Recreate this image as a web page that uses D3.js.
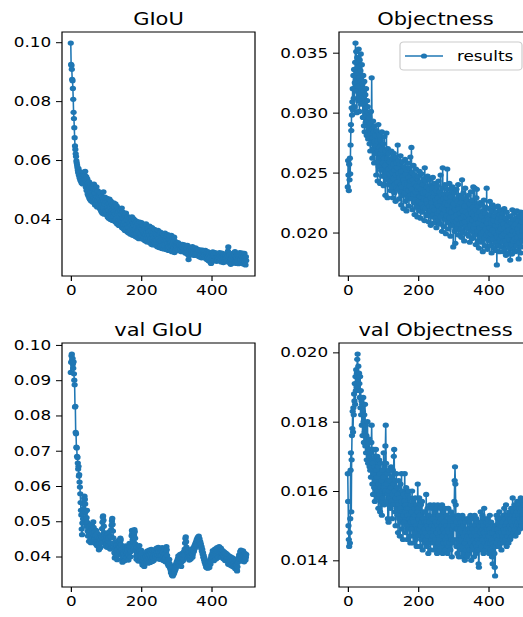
<!DOCTYPE html>
<html>
<head>
<meta charset="utf-8">
<script src="https://cdn.jsdelivr.net/npm/d3@7"></script>
<style>
  body { margin: 0; background: #fff; }
  svg { display: block; }
  text { font-family: "DejaVu Sans", sans-serif; fill: #000; }
</style>
</head>
<body>
<svg id="chart" width="523" height="617"></svg>
<script>
// train GIoU per epoch
var giou = [
  0.0997,0.0925,0.0921,0.0908,0.0874,0.0869,0.0843,0.0806,0.0762,0.0741,0.0710,0.0676,0.0648,0.0636,0.0621,0.0612,0.0597,0.0590,0.0583,0.0575,
  0.0566,0.0558,0.0571,0.0549,0.0552,0.0540,0.0561,0.0533,0.0545,0.0528,0.0539,0.0522,0.0548,0.0530,0.0519,0.0543,0.0527,0.0551,0.0535,0.0560,
  0.0548,0.0562,0.0531,0.0508,0.0544,0.0497,0.0528,0.0536,0.0485,0.0521,0.0479,0.0515,0.0526,0.0470,0.0508,0.0466,0.0519,0.0490,0.0461,0.0505,
  0.0481,0.0512,0.0478,0.0457,0.0503,0.0470,0.0518,0.0462,0.0489,0.0447,0.0500,0.0468,0.0452,0.0509,0.0476,0.0441,0.0463,0.0495,0.0450,0.0474,
  0.0443,0.0482,0.0436,0.0466,0.0489,0.0431,0.0458,0.0425,0.0477,0.0449,0.0419,0.0470,0.0440,0.0492,0.0461,0.0416,0.0452,0.0474,0.0428,0.0459,
  0.0425,0.0463,0.0414,0.0470,0.0438,0.0407,0.0459,0.0430,0.0402,0.0452,0.0467,0.0418,0.0441,0.0398,0.0461,0.0427,0.0409,0.0448,0.0420,0.0395,
  0.0446,0.0410,0.0455,0.0424,0.0393,0.0440,0.0415,0.0451,0.0389,0.0428,0.0402,0.0444,0.0383,0.0419,0.0436,0.0395,0.0425,0.0378,0.0412,0.0433,
  0.0394,0.0428,0.0376,0.0415,0.0391,0.0437,0.0370,0.0404,0.0423,0.0382,0.0400,0.0366,0.0419,0.0390,0.0361,0.0411,0.0379,0.0420,0.0368,0.0398,
  0.0381,0.0356,0.0408,0.0372,0.0395,0.0352,0.0383,0.0403,0.0360,0.0389,0.0348,0.0378,0.0398,0.0357,0.0407,0.0369,0.0345,0.0386,0.0401,0.0362,
  0.0379,0.0343,0.0396,0.0365,0.0388,0.0340,0.0373,0.0352,0.0392,0.0361,0.0336,0.0384,0.0358,0.0371,0.0333,0.0366,0.0389,0.0346,0.0370,0.0338,
  0.0369,0.0388,0.0341,0.0364,0.0380,0.0331,0.0358,0.0376,0.0337,0.0366,0.0350,0.0326,0.0372,0.0346,0.0383,0.0334,0.0356,0.0322,0.0367,0.0343,
  0.0366,0.0335,0.0357,0.0321,0.0376,0.0345,0.0327,0.0362,0.0333,0.0314,0.0352,0.0371,0.0329,0.0346,0.0312,0.0358,0.0336,0.0324,0.0365,0.0318,
  0.0350,0.0333,0.0311,0.0358,0.0327,0.0345,0.0306,0.0338,0.0361,0.0320,0.0334,0.0303,0.0348,0.0326,0.0316,0.0355,0.0309,0.0339,0.0322,0.0300,
  0.0337,0.0350,0.0312,0.0330,0.0298,0.0344,0.0323,0.0307,0.0352,0.0318,0.0334,0.0296,0.0327,0.0343,0.0302,0.0317,0.0347,0.0305,0.0293,0.0330,
  0.0319,0.0342,0.0302,0.0327,0.0292,0.0320,0.0344,0.0308,0.0289,0.0333,0.0315,0.0296,0.0325,0.0303,0.0338,0.0286,0.0313,0.0324,0.0294,0.0309,
  0.0309,0.0318,0.0300,0.0312,0.0296,0.0320,0.0305,0.0293,0.0310,0.0302,0.0315,0.0291,0.0306,0.0298,0.0311,0.0289,0.0303,0.0314,0.0295,0.0301,
  0.0308,0.0292,0.0299,0.0312,0.0287,0.0304,0.0296,0.0283,0.0307,0.0294,0.0301,0.0286,0.0310,0.0279,0.0297,0.0262,0.0275,0.0302,0.0290,0.0298,
  0.0285,0.0303,0.0293,0.0281,0.0299,0.0288,0.0306,0.0278,0.0294,0.0284,0.0300,0.0290,0.0276,0.0297,0.0287,0.0302,0.0280,0.0292,0.0285,0.0298,
  0.0282,0.0296,0.0274,0.0289,0.0293,0.0279,0.0286,0.0271,0.0295,0.0283,0.0277,0.0290,0.0268,0.0287,0.0280,0.0294,0.0273,0.0284,0.0291,0.0276,
  0.0288,0.0270,0.0281,0.0293,0.0266,0.0279,0.0285,0.0262,0.0276,0.0289,0.0271,0.0283,0.0258,0.0275,0.0287,0.0268,0.0280,0.0254,0.0273,0.0249,
  0.0270,0.0284,0.0262,0.0278,0.0288,0.0265,0.0274,0.0281,0.0258,0.0272,0.0286,0.0263,0.0277,0.0268,0.0283,0.0256,0.0271,0.0279,0.0260,0.0275,
  0.0282,0.0264,0.0270,0.0286,0.0259,0.0276,0.0267,0.0280,0.0254,0.0272,0.0284,0.0261,0.0269,0.0278,0.0252,0.0273,0.0265,0.0281,0.0257,0.0270,
  0.0263,0.0277,0.0255,0.0268,0.0282,0.0260,0.0274,0.0291,0.0305,0.0266,0.0253,0.0271,0.0279,0.0258,0.0264,0.0246,0.0262,0.0275,0.0250,0.0268,
  0.0276,0.0257,0.0284,0.0261,0.0270,0.0251,0.0279,0.0289,0.0264,0.0255,0.0272,0.0249,0.0268,0.0281,0.0256,0.0263,0.0277,0.0248,0.0266,0.0259,
  0.0274,0.0286,0.0253,0.0269,0.0262,0.0280,0.0250,0.0271,0.0284,0.0258,0.0265,0.0247,0.0276,0.0261,0.0283,0.0255,0.0268,0.0244,0.0272,0.0259
];

// train Objectness per epoch
var objectness = [
  0.0238,0.0260,0.0248,0.0235,0.0257,0.0244,0.0262,0.0249,0.0273,0.0290,0.0285,0.0304,0.0298,0.0309,0.0320,0.0302,0.0331,0.0312,0.0336,0.0305,
  0.0325,0.0342,0.0358,0.0318,0.0351,0.0333,0.0300,0.0346,0.0322,0.0338,0.0310,0.0353,0.0329,0.0301,0.0344,0.0316,0.0335,0.0349,0.0307,0.0327,
  0.0340,0.0312,0.0324,0.0296,0.0331,0.0318,0.0289,0.0326,0.0284,0.0303,0.0315,0.0292,0.0320,0.0298,0.0281,0.0310,0.0293,0.0305,0.0278,0.0300,
  0.0287,0.0296,0.0274,0.0291,0.0268,0.0283,0.0301,0.0277,0.0329,0.0286,0.0262,0.0279,0.0293,0.0270,0.0284,0.0258,0.0276,0.0289,0.0266,0.0281,
  0.0272,0.0248,0.0285,0.0259,0.0276,0.0243,0.0268,0.0290,0.0255,0.0271,0.0262,0.0281,0.0241,0.0266,0.0277,0.0252,0.0269,0.0284,0.0247,0.0263,
  0.0258,0.0274,0.0239,0.0262,0.0280,0.0247,0.0256,0.0231,0.0268,0.0251,0.0283,0.0244,0.0262,0.0229,0.0270,0.0253,0.0240,0.0266,0.0249,0.0259,
  0.0243,0.0261,0.0235,0.0255,0.0268,0.0238,0.0250,0.0262,0.0229,0.0257,0.0245,0.0266,0.0233,0.0252,0.0240,0.0263,0.0226,0.0248,0.0258,0.0237,
  0.0254,0.0242,0.0273,0.0236,0.0249,0.0260,0.0228,0.0246,0.0257,0.0234,0.0264,0.0240,0.0223,0.0251,0.0238,0.0259,0.0231,0.0247,0.0220,0.0244,
  0.0255,0.0233,0.0241,0.0261,0.0226,0.0249,0.0237,0.0218,0.0252,0.0240,0.0229,0.0258,0.0235,0.0246,0.0222,0.0254,0.0239,0.0231,0.0263,0.0243,
  0.0228,0.0271,0.0236,0.0250,0.0219,0.0244,0.0232,0.0256,0.0225,0.0241,0.0215,0.0248,0.0234,0.0227,0.0253,0.0221,0.0239,0.0245,0.0213,0.0236,
  0.0247,0.0226,0.0238,0.0218,0.0251,0.0230,0.0242,0.0212,0.0236,0.0224,0.0249,0.0229,0.0217,0.0240,0.0233,0.0221,0.0245,0.0228,0.0210,0.0254,
  0.0234,0.0220,0.0243,0.0227,0.0214,0.0238,0.0224,0.0247,0.0216,0.0231,0.0209,0.0236,0.0222,0.0244,0.0218,0.0229,0.0206,0.0240,0.0225,0.0213,
  0.0237,0.0221,0.0246,0.0215,0.0230,0.0208,0.0233,0.0219,0.0241,0.0212,0.0227,0.0235,0.0204,0.0224,0.0239,0.0216,0.0229,0.0210,0.0243,0.0222,
  0.0218,0.0234,0.0207,0.0226,0.0248,0.0213,0.0231,0.0220,0.0201,0.0237,0.0254,0.0216,0.0228,0.0205,0.0232,0.0219,0.0240,0.0211,0.0225,0.0199,
  0.0229,0.0214,0.0236,0.0253,0.0208,0.0223,0.0232,0.0203,0.0219,0.0241,0.0212,0.0226,0.0197,0.0230,0.0217,0.0235,0.0206,0.0222,0.0238,0.0210,
  0.0188,0.0224,0.0213,0.0233,0.0201,0.0219,0.0191,0.0228,0.0209,0.0236,0.0215,0.0203,0.0226,0.0211,0.0240,0.0198,0.0220,0.0207,0.0231,0.0216,
  0.0202,0.0225,0.0212,0.0196,0.0229,0.0244,0.0208,0.0218,0.0200,0.0233,0.0214,0.0193,0.0222,0.0209,0.0237,0.0205,0.0217,0.0228,0.0199,0.0213,
  0.0226,0.0203,0.0215,0.0231,0.0197,0.0211,0.0224,0.0192,0.0219,0.0206,0.0234,0.0201,0.0216,0.0227,0.0195,0.0210,0.0221,0.0238,0.0204,0.0214,
  0.0198,0.0237,0.0207,0.0219,0.0190,0.0212,0.0229,0.0236,0.0201,0.0215,0.0193,0.0222,0.0208,0.0187,0.0217,0.0204,0.0225,0.0196,0.0211,0.0199,
  0.0214,0.0192,0.0223,0.0206,0.0184,0.0218,0.0201,0.0227,0.0195,0.0210,0.0189,0.0216,0.0203,0.0221,0.0198,0.0237,0.0208,0.0186,0.0213,0.0200,
  0.0211,0.0193,0.0220,0.0204,0.0226,0.0189,0.0215,0.0199,0.0208,0.0183,0.0218,0.0202,0.0223,0.0194,0.0210,0.0187,0.0214,0.0200,0.0221,0.0191,
  0.0206,0.0185,0.0217,0.0198,0.0173,0.0209,0.0196,0.0222,0.0189,0.0212,0.0201,0.0184,0.0215,0.0195,0.0219,0.0203,0.0188,0.0210,0.0197,0.0213,
  0.0192,0.0216,0.0184,0.0207,0.0199,0.0220,0.0186,0.0204,0.0193,0.0212,0.0181,0.0201,0.0217,0.0190,0.0206,0.0196,0.0213,0.0183,0.0202,0.0194,
  0.0209,0.0187,0.0177,0.0214,0.0198,0.0190,0.0208,0.0182,0.0219,0.0201,0.0193,0.0211,0.0186,0.0205,0.0216,0.0195,0.0184,0.0207,0.0199,0.0212,
  0.0189,0.0218,0.0196,0.0203,0.0185,0.0210,0.0178,0.0200,0.0214,0.0191,0.0206,0.0183,0.0217,0.0197,0.0188,0.0209,0.0202,0.0215,0.0193,0.0205
];

// validation GIoU per epoch
var valGiou = [
  0.0922,0.0951,0.0969,0.0974,0.0958,0.0962,0.0946,0.0934,0.0952,0.0918,0.0900,0.0887,0.0824,0.0826,0.0752,0.0748,0.0710,0.0708,0.0684,0.0681,
  0.0665,0.0648,0.0656,0.0628,0.0632,0.0611,0.0597,0.0578,0.0553,0.0531,0.0518,0.0478,0.0462,0.0495,0.0521,0.0507,0.0536,0.0548,0.0565,0.0571,
  0.0562,0.0549,0.0527,0.0503,0.0486,0.0510,0.0531,0.0497,0.0472,0.0458,0.0481,0.0464,0.0443,0.0469,0.0488,0.0473,0.0451,0.0439,0.0462,0.0480,
  0.0491,0.0476,0.0454,0.0467,0.0498,0.0483,0.0459,0.0446,0.0471,0.0452,0.0437,0.0458,0.0474,0.0449,0.0431,0.0443,0.0466,0.0455,0.0438,0.0427,
  0.0419,0.0433,0.0452,0.0440,0.0425,0.0447,0.0461,0.0438,0.0456,0.0479,0.0497,0.0512,0.0515,0.0503,0.0486,0.0468,0.0451,0.0462,0.0444,0.0430,
  0.0445,0.0458,0.0437,0.0426,0.0449,0.0463,0.0441,0.0430,0.0452,0.0470,0.0455,0.0434,0.0421,0.0439,0.0457,0.0476,0.0489,0.0501,0.0508,0.0491,
  0.0472,0.0453,0.0437,0.0425,0.0411,0.0396,0.0408,0.0423,0.0441,0.0432,0.0418,0.0402,0.0391,0.0406,0.0420,0.0435,0.0446,0.0429,0.0414,0.0427,
  0.0440,0.0452,0.0447,0.0433,0.0419,0.0405,0.0392,0.0384,0.0398,0.0412,0.0426,0.0409,0.0395,0.0388,0.0401,0.0416,0.0430,0.0423,0.0408,0.0397,
  0.0411,0.0425,0.0418,0.0402,0.0390,0.0404,0.0421,0.0437,0.0429,0.0413,0.0399,0.0415,0.0438,0.0459,0.0474,0.0466,0.0448,0.0432,0.0419,0.0442,
  0.0461,0.0476,0.0470,0.0452,0.0435,0.0417,0.0401,0.0392,0.0410,0.0426,0.0414,0.0398,0.0387,0.0403,0.0420,0.0431,0.0416,0.0400,0.0389,0.0405,
  0.0418,0.0409,0.0395,0.0382,0.0376,0.0389,0.0403,0.0397,0.0384,0.0372,0.0380,0.0394,0.0408,0.0399,0.0386,0.0393,0.0407,0.0415,0.0402,0.0390,
  0.0381,0.0395,0.0410,0.0418,0.0404,0.0391,0.0383,0.0397,0.0412,0.0420,0.0406,0.0393,0.0386,0.0399,0.0414,0.0402,0.0389,0.0396,0.0411,0.0419,
  0.0407,0.0395,0.0401,0.0416,0.0424,0.0410,0.0398,0.0405,0.0419,0.0426,0.0413,0.0400,0.0392,0.0406,0.0420,0.0414,0.0401,0.0393,0.0404,0.0417,
  0.0425,0.0412,0.0398,0.0389,0.0402,0.0416,0.0421,0.0407,0.0394,0.0385,0.0397,0.0411,0.0428,0.0419,0.0403,0.0390,0.0379,0.0386,0.0374,0.0381,
  0.0392,0.0380,0.0368,0.0375,0.0362,0.0354,0.0367,0.0358,0.0347,0.0352,0.0345,0.0356,0.0349,0.0361,0.0353,0.0366,0.0359,0.0371,0.0364,0.0378,
  0.0370,0.0384,0.0376,0.0389,0.0381,0.0395,0.0402,0.0390,0.0379,0.0387,0.0398,0.0406,0.0393,0.0383,0.0372,0.0385,0.0397,0.0409,0.0401,0.0388,
  0.0394,0.0405,0.0414,0.0403,0.0421,0.0438,0.0451,0.0456,0.0442,0.0427,0.0415,0.0403,0.0396,0.0408,0.0419,0.0411,0.0399,0.0390,0.0402,0.0413,
  0.0404,0.0393,0.0400,0.0412,0.0421,0.0409,0.0398,0.0406,0.0417,0.0425,0.0414,0.0420,0.0431,0.0424,0.0436,0.0429,0.0441,0.0434,0.0447,0.0440,
  0.0452,0.0446,0.0455,0.0449,0.0458,0.0444,0.0451,0.0437,0.0443,0.0430,0.0436,0.0423,0.0428,0.0415,0.0420,0.0407,0.0411,0.0398,0.0403,0.0391,
  0.0396,0.0384,0.0389,0.0377,0.0382,0.0370,0.0376,0.0368,0.0381,0.0373,0.0367,0.0379,0.0386,0.0374,0.0369,0.0383,0.0390,0.0378,0.0385,0.0396,
  0.0403,0.0391,0.0398,0.0410,0.0417,0.0405,0.0396,0.0388,0.0399,0.0412,0.0421,0.0409,0.0400,0.0393,0.0406,0.0418,0.0425,0.0414,0.0403,0.0397,
  0.0410,0.0422,0.0428,0.0416,0.0407,0.0401,0.0413,0.0424,0.0419,0.0406,0.0398,0.0409,0.0417,0.0405,0.0394,0.0402,0.0413,0.0408,0.0396,0.0389,
  0.0401,0.0410,0.0399,0.0387,0.0395,0.0406,0.0397,0.0385,0.0378,0.0390,0.0402,0.0394,0.0383,0.0376,0.0388,0.0399,0.0391,0.0380,0.0373,0.0385,
  0.0396,0.0389,0.0378,0.0370,0.0382,0.0393,0.0386,0.0374,0.0365,0.0377,0.0388,0.0376,0.0363,0.0359,0.0371,0.0383,0.0394,0.0387,0.0398,0.0405,
  0.0392,0.0403,0.0414,0.0408,0.0418,0.0411,0.0399,0.0387,0.0396,0.0407,0.0416,0.0404,0.0393,0.0385,0.0397,0.0409,0.0401,0.0390,0.0398,0.0406
];

// validation Objectness per epoch
var valObjectness = [
  0.0165,0.0157,0.0150,0.0146,0.0144,0.0148,0.0145,0.0152,0.0166,0.0171,0.0154,0.0169,0.0176,0.0178,0.0183,0.0177,0.0184,0.0182,0.0188,0.0186,
  0.0191,0.0185,0.0193,0.0189,0.0195,0.0190,0.0194,0.0198,0.01995,0.0192,0.0196,0.0189,0.0194,0.0191,0.0187,0.0193,0.0184,0.0189,0.0182,0.0186,
  0.0179,0.0185,0.0176,0.0183,0.0187,0.0180,0.0174,0.0182,0.0177,0.0185,0.0173,0.0179,0.0171,0.0176,0.0169,0.0175,0.0180,0.0172,0.0168,0.0174,
  0.0170,0.0175,0.0167,0.0172,0.0166,0.0171,0.0164,0.0174,0.0179,0.0169,0.0162,0.0168,0.0159,0.0165,0.0172,0.0161,0.0167,0.0157,0.0170,0.0163,
  0.0172,0.0166,0.0158,0.0164,0.0170,0.0160,0.0167,0.0155,0.0162,0.0169,0.0159,0.0165,0.0154,0.0161,0.0168,0.0157,0.0163,0.0153,0.0160,0.0166,
  0.0158,0.0164,0.0171,0.0161,0.0156,0.0167,0.0160,0.0173,0.0179,0.0168,0.0162,0.0157,0.0165,0.0159,0.0152,0.0163,0.0151,0.0160,0.0166,0.0158,
  0.0163,0.0155,0.0161,0.0167,0.0157,0.0164,0.0152,0.0159,0.0166,0.0156,0.0162,0.0170,0.0172,0.0160,0.0154,0.0163,0.0150,0.0158,0.0165,0.0155,
  0.0161,0.0153,0.0159,0.0148,0.0156,0.0163,0.0152,0.0158,0.0147,0.0155,0.0162,0.0151,0.0157,0.0165,0.0149,0.0154,0.0160,0.0146,0.0153,0.0159,
  0.0151,0.0157,0.0165,0.0154,0.0148,0.0156,0.0161,0.0150,0.0155,0.0146,0.0153,0.0159,0.0149,0.0155,0.0160,0.0147,0.0152,0.0158,0.0145,0.0151,
  0.0156,0.0149,0.0154,0.0160,0.0147,0.0152,0.0157,0.0145,0.0151,0.0155,0.0148,0.0153,0.0158,0.0146,0.0150,0.0156,0.0144,0.0149,0.0154,0.0162,
  0.0155,0.0147,0.0152,0.0158,0.0149,0.0153,0.0144,0.0150,0.0156,0.0146,0.0151,0.0157,0.0148,0.0143,0.0152,0.0147,0.0154,0.0149,0.0145,0.0151,
  0.0148,0.0154,0.0146,0.0159,0.0151,0.0144,0.0150,0.0155,0.0147,0.0142,0.0149,0.0153,0.0145,0.0151,0.0156,0.0143,0.0148,0.0152,0.0146,0.0150,
  0.0155,0.0147,0.0152,0.0145,0.0149,0.0156,0.0143,0.0150,0.0154,0.0146,0.0151,0.0144,0.0155,0.0148,0.0142,0.0150,0.0156,0.0145,0.0149,0.0153,
  0.0146,0.0151,0.0143,0.0155,0.0148,0.0152,0.0144,0.0150,0.0156,0.0147,0.0142,0.0149,0.0154,0.0145,0.0151,0.0143,0.0148,0.0155,0.0146,0.0143,
  0.0150,0.0145,0.0153,0.0147,0.0142,0.0149,0.0155,0.0144,0.0148,0.0152,0.0145,0.0150,0.0143,0.0147,0.0154,0.0146,0.0141,0.0149,0.0153,0.0145,
  0.0150,0.0146,0.0152,0.0157,0.0163,0.0167,0.0162,0.0156,0.0149,0.0144,0.0151,0.0146,0.0142,0.0149,0.0153,0.0145,0.0141,0.0148,0.0152,0.0144,
  0.0149,0.0143,0.0151,0.0146,0.0141,0.0148,0.0153,0.0144,0.0150,0.0142,0.0147,0.0152,0.0145,0.0140,0.0148,0.0151,0.0143,0.0149,0.0146,0.0141,
  0.0147,0.0152,0.0144,0.0149,0.0142,0.0146,0.0151,0.0143,0.0148,0.0153,0.0145,0.0140,0.0147,0.0150,0.0143,0.0149,0.0144,0.0152,0.0146,0.0141,
  0.0148,0.0153,0.0145,0.0150,0.0142,0.0147,0.0152,0.0144,0.0149,0.0143,0.0146,0.0151,0.0139,0.0138,0.0145,0.0150,0.0143,0.0148,0.0154,0.0146,
  0.0151,0.0144,0.0149,0.0153,0.0146,0.0150,0.0142,0.0148,0.0155,0.0152,0.0145,0.0149,0.0143,0.0147,0.0151,0.0144,0.0149,0.0146,0.0152,0.0145,
  0.0150,0.0147,0.0142,0.0149,0.0153,0.0145,0.0148,0.0143,0.0151,0.0146,0.0141,0.0148,0.0139,0.0145,0.0150,0.0144,0.0149,0.0142,0.0138,0.01355,
  0.0144,0.0150,0.0147,0.0153,0.0145,0.0149,0.0152,0.0146,0.0151,0.0144,0.0148,0.0154,0.0147,0.0150,0.0145,0.0152,0.0148,0.0143,0.0150,0.0146,
  0.0151,0.0147,0.0153,0.0145,0.0149,0.0155,0.0148,0.0152,0.0146,0.0150,0.0156,0.0149,0.0144,0.0151,0.0147,0.0153,0.0149,0.0145,0.0152,0.0148,
  0.0154,0.0150,0.0146,0.0152,0.0149,0.0155,0.0151,0.0147,0.0153,0.0158,0.0150,0.0154,0.0148,0.0152,0.0156,0.0149,0.0153,0.0147,0.0151,0.0155,
  0.0150,0.0154,0.0157,0.0151,0.0148,0.0153,0.0156,0.0150,0.0155,0.0152,0.0149,0.0154,0.0158,0.0151,0.0155,0.0150,0.0153,0.0157,0.0152,0.0156
];

var titles = ["GIoU", "Objectness", "val GIoU", "val Objectness"];
var xTicks = [0, 200, 400];
var giouTicks = [0.04, 0.06, 0.08, 0.10];
var objectnessTicks = [0.020, 0.025, 0.030, 0.035];
var valGiouTicks = [0.04, 0.05, 0.06, 0.07, 0.08, 0.09, 0.10];
var valObjectnessTicks = [0.014, 0.016, 0.018, 0.020];
var legendLabel = "results";

// the picture is stretched sideways, so draw in narrower units and scale x
var sx = 1.2;
var color = "#1f77b4";
var plotW = 193 / sx, plotH = 244;
var tickFont = 14, titleFont = 17.5;
var dotR = 2.6;

var panels = [
    {title: titles[0], values: giou, ticks: giouTicks, fmt: ".2f", left: 62 / sx, top: 32},
    {title: titles[1], values: objectness, ticks: objectnessTicks, fmt: ".3f", left: 339 / sx, top: 32, legend: true},
    {title: titles[2], values: valGiou, ticks: valGiouTicks, fmt: ".2f", left: 62 / sx, top: 343},
    {title: titles[3], values: valObjectness, ticks: valObjectnessTicks, fmt: ".3f", left: 339 / sx, top: 343}
];

var svg = d3.select("#chart");
svg.append("rect").attr("width", 523).attr("height", 617).attr("fill", "#fff");
var root = svg.append("g").attr("transform", "scale(" + sx + ",1)");

// matplotlib style 5% margins
function padded(lo, hi) {
    var m = (hi - lo) * 0.05;
    return [lo - m, hi + m];
}

panels.forEach(function (p, k) {
    var n = p.values.length;
    var x = d3.scaleLinear().domain(padded(0, n - 1)).range([0, plotW]);
    var y = d3.scaleLinear().domain(padded(d3.min(p.values), d3.max(p.values))).range([plotH, 0]);

    var g = root.append("g").attr("transform", "translate(" + p.left + "," + p.top + ")");

    g.append("clipPath").attr("id", "clip" + k)
        .append("rect").attr("width", plotW).attr("height", plotH);

    var plot = g.append("g").attr("clip-path", "url(#clip" + k + ")");

    var line = d3.line()
        .x(function (d, i) { return x(i); })
        .y(function (d) { return y(d); });

    plot.append("path")
        .datum(p.values)
        .attr("d", line)
        .attr("fill", "none")
        .attr("stroke", color)
        .attr("stroke-width", 1.3);

    plot.selectAll("circle")
        .data(p.values)
        .enter().append("circle")
        .attr("cx", function (d, i) { return x(i); })
        .attr("cy", function (d) { return y(d); })
        .attr("r", dotR)
        .attr("fill", color);

    var xAxis = g.append("g")
        .attr("transform", "translate(0," + plotH + ")")
        .call(d3.axisBottom(x).tickValues(xTicks).tickSize(5).tickPadding(4).tickFormat(d3.format("d")));
    var yAxis = g.append("g")
        .call(d3.axisLeft(y).tickValues(p.ticks).tickSize(5).tickPadding(4).tickFormat(d3.format(p.fmt)));

    [xAxis, yAxis].forEach(function (a) {
        a.select(".domain").remove();
        a.selectAll("line").attr("stroke", "#000").attr("stroke-width", 1);
        a.selectAll("text").attr("font-size", tickFont).attr("font-family", "DejaVu Sans").attr("fill", "#000");
    });

    g.append("rect")
        .attr("width", plotW).attr("height", plotH)
        .attr("fill", "none").attr("stroke", "#000").attr("stroke-width", 1);

    g.append("text")
        .attr("x", plotW / 2).attr("y", -7)
        .attr("text-anchor", "middle")
        .attr("font-size", titleFont)
        .text(p.title);

    if (p.legend) {
        var lg = g.append("g").attr("transform", "translate(" + (400 / sx - p.left) + ",10)");
        lg.append("rect")
            .attr("width", 122 / sx).attr("height", 28).attr("rx", 3)
            .attr("fill", "#fff").attr("fill-opacity", 0.8)
            .attr("stroke", "#ccc").attr("stroke-width", 1);
        lg.append("line")
            .attr("x1", 5 / sx).attr("x2", 43 / sx).attr("y1", 14).attr("y2", 14)
            .attr("stroke", color).attr("stroke-width", 1.3);
        lg.append("circle").attr("cx", 24 / sx).attr("cy", 14).attr("r", dotR).attr("fill", color);
        lg.append("text")
            .attr("x", 57 / sx).attr("y", 19)
            .attr("font-size", tickFont)
            .text(legendLabel);
    }
});
</script>
</body>
</html>
